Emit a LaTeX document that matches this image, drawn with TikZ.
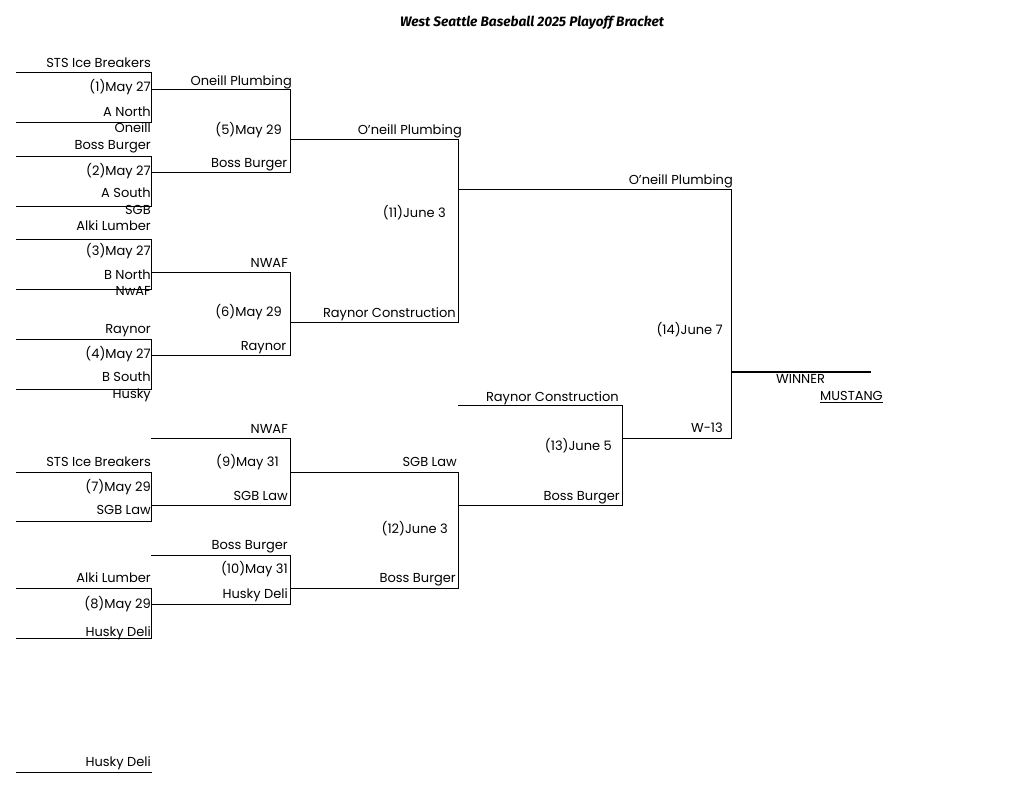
\documentclass[tikz,border=0pt]{standalone}
\usepackage{fontspec}
\setmainfont{Poppins}
\newfontfamily\titlefont{Fira Sans}
\tikzset{
  lbl/.style={anchor=east, inner sep=0pt, text height=9.5pt, text depth=0pt,
    font=\fontsize{13}{15}\selectfont},
  lblw/.style={lbl, anchor=west},
  bline/.style={line width=1pt, line cap=rect},
  winline/.style={line width=2pt}
}
\begin{document}
\begin{tikzpicture}[x=1pt, y=-1pt]
    \useasboundingbox (0, 0) rectangle (1024, 792);
    \node (title) at (532, 23) {\titlefont\fontsize{13.7}{16}\selectfont\bfseries\itshape West Seattle Baseball 2025 Playoff Bracket};

    % round 1, top half
    \coordinate (a1) at (16, 72);     \coordinate (b1) at (151, 72);
    \coordinate (c1) at (151, 122.5); \coordinate (d1) at (16, 122.5);
    \coordinate (o1) at (151, 89.5);  \coordinate (e1) at (290, 89.5);
    \coordinate (a2) at (16, 156);    \coordinate (b2) at (151, 156);
    \coordinate (c2) at (151, 206);   \coordinate (d2) at (16, 206);
    \coordinate (o2) at (151, 172.5); \coordinate (e2) at (290, 172.5);
    \coordinate (a3) at (16, 239);    \coordinate (b3) at (151, 239);
    \coordinate (c3) at (151, 289);   \coordinate (d3) at (16, 289);
    \coordinate (o3) at (151, 272);   \coordinate (e3) at (290, 272);
    \coordinate (a4) at (16, 339);    \coordinate (b4) at (151, 339);
    \coordinate (c4) at (151, 389);   \coordinate (d4) at (16, 389);
    \coordinate (o4) at (151, 355.5); \coordinate (e4) at (290, 355.5);
    \draw [bline] (a1) -- (b1) -- (c1) -- (d1);
    \draw [bline] (o1) -- (e1);
    \draw [bline] (a2) -- (b2) -- (c2) -- (d2);
    \draw [bline] (o2) -- (e2);
    \draw [bline] (a3) -- (b3) -- (c3) -- (d3);
    \draw [bline] (o3) -- (e3);
    \draw [bline] (a4) -- (b4) -- (c4) -- (d4);
    \draw [bline] (o4) -- (e4);

    % round 1, bottom half
    \coordinate (a7) at (16, 472);    \coordinate (b7) at (151, 472);
    \coordinate (c7) at (151, 521.5); \coordinate (d7) at (16, 521.5);
    \coordinate (o7) at (151, 505);   \coordinate (e7) at (290, 505);
    \coordinate (a8) at (16, 588);    \coordinate (b8) at (151, 588);
    \coordinate (c8) at (151, 638);   \coordinate (d8) at (16, 638);
    \coordinate (o8) at (151, 604.5); \coordinate (e8) at (290, 604.5);
    \coordinate (a0) at (16, 772);    \coordinate (b0) at (151, 772);
    \draw [bline] (a7) -- (b7) -- (c7) -- (d7);
    \draw [bline] (o7) -- (e7);
    \draw [bline] (a8) -- (b8) -- (c8) -- (d8);
    \draw [bline] (o8) -- (e8);
    \draw [bline] (a0) -- (b0);

    % round 2
    \coordinate (o5) at (290, 139.5); \coordinate (e5) at (458, 139.5);
    \coordinate (o6) at (290, 322);   \coordinate (e6) at (458, 322);
    \coordinate (a9) at (151, 438.5); \coordinate (b9) at (290, 438.5);
    \coordinate (o9) at (290, 472);   \coordinate (e9) at (458, 472);
    \coordinate (a10) at (151, 555);  \coordinate (b10) at (290, 555);
    \coordinate (o10) at (290, 588);  \coordinate (e10) at (458, 588);
    \draw [bline] (e1) -- (e2);
    \draw [bline] (o5) -- (e5);
    \draw [bline] (e3) -- (e4);
    \draw [bline] (o6) -- (e6);
    \draw [bline] (a9) -- (b9) -- (e7);
    \draw [bline] (o9) -- (e9);
    \draw [bline] (a10) -- (b10) -- (e8);
    \draw [bline] (o10) -- (e10);

    % round 3 and final
    \coordinate (o11) at (458, 189.5); \coordinate (e11) at (731, 189.5);
    \coordinate (o12) at (458, 505);   \coordinate (e12) at (622, 505);
    \coordinate (a13) at (458, 405.5); \coordinate (b13) at (622, 405.5);
    \coordinate (o13) at (622, 438);   \coordinate (e13) at (731, 438);
    \coordinate (o14) at (731, 372);   \coordinate (e14) at (871, 372);
    \draw [bline] (e5) -- (e6);
    \draw [bline] (o11) -- (e11);
    \draw [bline] (e9) -- (e10);
    \draw [bline] (o12) -- (e12);
    \draw [bline] (a13) -- (b13) -- (e12);
    \draw [bline] (o13) -- (e13);
    \draw [bline] (e11) -- (e13);
    \draw [winline] (o14) -- (e14);

    % labels, round 1
    \node [lbl] (t1a) at (151, 63) {STS Ice Breakers};
    \node [lbl] (d1l) at (151, 87) {(1)May 27};
    \node [lbl] (t1b) at (151, 112) {A North};
    \node [lbl] (w1) at (151, 128) {Oneill};
    \node [lbl] (t2a) at (151, 145) {Boss Burger};
    \node [lbl] (d2l) at (151, 171) {(2)May 27};
    \node [lbl] (t2b) at (151, 193) {A South};
    \node [lbl] (w2) at (151, 210) {SGB};
    \node [lbl] (t3a) at (151, 226) {Alki Lumber};
    \node [lbl] (d3l) at (151, 251) {(3)May 27};
    \node [lbl] (t3b) at (151, 275) {B North};
    \node [lbl] (w3) at (151, 291) {NwAF};
    \node [lbl] (t4a) at (151, 329) {Raynor};
    \node [lbl] (d4l) at (151, 354) {(4)May 27};
    \node [lbl] (t4b) at (151, 377) {B South};
    \node [lbl] (w4) at (151, 394) {Husky};
    \node [lbl] (t7a) at (151, 462) {STS Ice Breakers};
    \node [lbl] (d7l) at (151, 487) {(7)May 29};
    \node [lbl] (t7b) at (151, 510) {SGB Law};
    \node [lbl] (t8a) at (151, 578) {Alki Lumber};
    \node [lbl] (d8l) at (151, 604) {(8)May 29};
    \node [lbl] (t8b) at (151, 632) {Husky Deli};
    \node [lbl] (t0) at (151, 762) {Husky Deli};

    % labels, round 2
    \node [lbl] (t5a) at (292, 80.5) {Oneill Plumbing};
    \node [lbl] (d5l) at (282, 130) {(5)May 29};
    \node [lbl] (t5b) at (287.5, 163) {Boss Burger};
    \node [lbl] (t6a) at (288, 262.5) {NWAF};
    \node [lbl] (d6l) at (282, 312) {(6)May 29};
    \node [lbl] (t6b) at (286.5, 346) {Raynor};
    \node [lbl] (t9a) at (288, 429) {NWAF};
    \node [lbl] (d9l) at (279, 462) {(9)May 31};
    \node [lbl] (t9b) at (288, 495.5) {SGB Law};
    \node [lbl] (t10a) at (288, 545) {Boss Burger};
    \node [lbl] (d10l) at (288, 569) {(10)May 31};
    \node [lbl] (t10b) at (288, 594) {Husky Deli};

    % labels, round 3
    \node [lbl] (t11a) at (462, 130) {O'neill Plumbing};
    \node [lbl] (d11l) at (446, 213) {(11)June 3};
    \node [lbl] (t11b) at (456, 312.5) {Raynor Construction};
    \node [lbl] (t12a) at (457, 462) {SGB Law};
    \node [lbl] (d12l) at (448, 529) {(12)June 3};
    \node [lbl] (t12b) at (456, 578) {Boss Burger};
    \node [lbl] (t13a) at (619, 396.5) {Raynor Construction};
    \node [lbl] (d13l) at (612, 446) {(13)June 5};
    \node [lbl] (t13b) at (620, 495.5) {Boss Burger};

    % labels, final
    \node [lbl] (t14a) at (733, 180) {O'neill Plumbing};
    \node [lbl] (d14l) at (723, 330) {(14)June 7};
    \node [lbl] (t14b) at (723, 428) {W-13};
    \node [lblw] (win) at (776, 379) {WINNER};
    \node [lblw] (champ) at (820, 395.5) {\underline{MUSTANG}};
\end{tikzpicture}
\end{document}
